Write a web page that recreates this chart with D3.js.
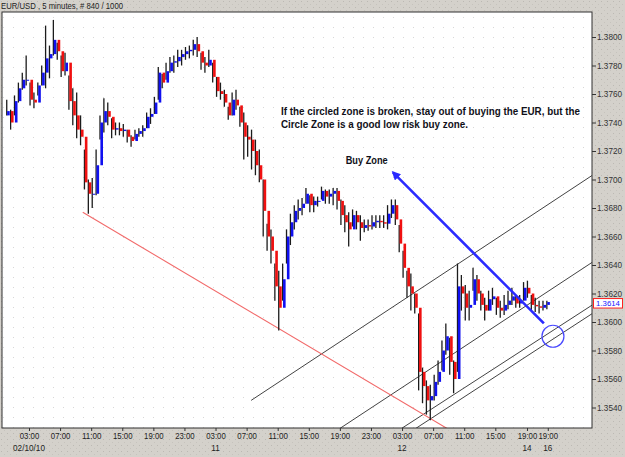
<!DOCTYPE html>
<html>
<head>
<meta charset="utf-8">
<script src="https://cdn.jsdelivr.net/npm/d3@7"></script>
<style>
  body { margin: 0; background: #d4d1cb; }
  svg { display: block; }
</style>
</head>
<body>
<div id="chart"></div>
<script>
const highs = [
  1.3756, 1.3749, 1.3759, 1.3768, 1.3775, 1.3787, 1.3768, 1.3761, 1.3768, 1.3780,
  1.3808, 1.3794, 1.3812, 1.3796, 1.3787, 1.3789, 1.3773, 1.3764, 1.3761, 1.3745,
  1.3721, 1.3700, 1.3701, 1.3721, 1.3745, 1.3757, 1.3754, 1.3743, 1.3740, 1.3740,
  1.3739, 1.3735, 1.3731, 1.3735, 1.3736, 1.3738, 1.3747, 1.3750, 1.3758, 1.3779,
  1.3774, 1.3782, 1.3786, 1.3787, 1.3791, 1.3791, 1.3793, 1.3794, 1.3798, 1.3800,
  1.3789, 1.3786, 1.3791, 1.3782, 1.3772, 1.3768, 1.3763, 1.3751, 1.3761, 1.3763,
  1.3751, 1.3747, 1.3738, 1.3735, 1.3728, 1.3721, 1.3700, 1.3669, 1.3665, 1.3641,
  1.3636, 1.3641, 1.3665, 1.3676, 1.3682, 1.3686, 1.3687, 1.3694, 1.3689, 1.3688,
  1.3688, 1.3695, 1.3693, 1.3693, 1.3694, 1.3694, 1.3686, 1.3682, 1.3677, 1.3679,
  1.3678, 1.3675, 1.3672, 1.3672, 1.3675, 1.3675, 1.3675, 1.3675, 1.3682, 1.3686,
  1.3686, 1.3668, 1.3650, 1.3636, 1.3634, 1.3620, 1.3606, 1.3568, 1.3559, 1.3556,
  1.3563, 1.3573, 1.3587, 1.3599, 1.3589, 1.3573, 1.3641, 1.3633, 1.3626, 1.3622,
  1.3638, 1.3633, 1.3622, 1.3617, 1.3622, 1.3624, 1.3617, 1.3615, 1.3619, 1.3622,
  1.3624, 1.3619, 1.3619, 1.3628, 1.3629, 1.3619, 1.3617, 1.3615, 1.3615, 1.3615
];
const lows = [
  1.3745, 1.3735, 1.3745, 1.3754, 1.3763, 1.3766, 1.3752, 1.3750, 1.3759, 1.3766,
  1.3764, 1.3771, 1.3787, 1.3784, 1.3772, 1.3773, 1.3749, 1.3738, 1.3729, 1.3724,
  1.3693, 1.3676, 1.3680, 1.3689, 1.3728, 1.3733, 1.3738, 1.3729, 1.3731, 1.3731,
  1.3730, 1.3726, 1.3723, 1.3728, 1.3730, 1.3730, 1.3736, 1.3739, 1.3746, 1.3756,
  1.3764, 1.3770, 1.3775, 1.3775, 1.3779, 1.3780, 1.3784, 1.3785, 1.3787, 1.3786,
  1.3777, 1.3775, 1.3779, 1.3768, 1.3758, 1.3756, 1.3751, 1.3742, 1.3745, 1.3749,
  1.3737, 1.3714, 1.3716, 1.3707, 1.3703, 1.3698, 1.3660, 1.3650, 1.3641, 1.3615,
  1.3594, 1.3615, 1.3641, 1.3654, 1.3665, 1.3672, 1.3675, 1.3683, 1.3677, 1.3677,
  1.3681, 1.3686, 1.3683, 1.3683, 1.3682, 1.3679, 1.3668, 1.3663, 1.3653, 1.3667,
  1.3665, 1.3657, 1.3663, 1.3664, 1.3665, 1.3666, 1.3666, 1.3666, 1.3665, 1.3673,
  1.3668, 1.3649, 1.3631, 1.3617, 1.3608, 1.3606, 1.3552, 1.3543, 1.3535, 1.3531,
  1.3545, 1.3556, 1.3566, 1.3577, 1.3563, 1.3550, 1.3565, 1.3608, 1.3601, 1.3601,
  1.3622, 1.3615, 1.3608, 1.3601, 1.3608, 1.3612, 1.3605, 1.3603, 1.3605, 1.3609,
  1.3612, 1.3610, 1.3610, 1.3615, 1.3617, 1.3608, 1.3607, 1.3606, 1.3608, 1.3609
];
const closes = [
  1.3748, 1.3740, 1.3755, 1.3764, 1.3770, 1.3770, 1.3756, 1.3754, 1.3766, 1.3775,
  1.3785, 1.3788, 1.3798, 1.3790, 1.3776, 1.3782, 1.3755, 1.3745, 1.3735, 1.3730,
  1.3698, 1.3690, 1.3690, 1.3710, 1.3740, 1.3748, 1.3744, 1.3735, 1.3736, 1.3734,
  1.3735, 1.3730, 1.3727, 1.3732, 1.3734, 1.3736, 1.3744, 1.3746, 1.3754, 1.3775,
  1.3768, 1.3776, 1.3782, 1.3783, 1.3786, 1.3788, 1.3790, 1.3791, 1.3795, 1.3790,
  1.3782, 1.3780, 1.3784, 1.3772, 1.3762, 1.3760, 1.3754, 1.3745, 1.3756, 1.3752,
  1.3740, 1.3730, 1.3728, 1.3720, 1.3710, 1.3700, 1.3678, 1.3660, 1.3650, 1.3625,
  1.3610, 1.3630, 1.3660, 1.3670, 1.3678, 1.3680, 1.3683, 1.3690, 1.3682, 1.3685,
  1.3685, 1.3692, 1.3688, 1.3690, 1.3692, 1.3685, 1.3675, 1.3670, 1.3665, 1.3675,
  1.3670, 1.3666, 1.3668, 1.3667, 1.3670, 1.3671, 1.3670, 1.3669, 1.3676, 1.3682,
  1.3672, 1.3655, 1.3638, 1.3625, 1.3620, 1.3610, 1.3565, 1.3555, 1.3545, 1.3548,
  1.3558, 1.3565, 1.3580, 1.3590, 1.3572, 1.3560, 1.3625, 1.3620, 1.3610, 1.3612,
  1.3630, 1.3620, 1.3612, 1.3608, 1.3616, 1.3618, 1.3610, 1.3608, 1.3612, 1.3615,
  1.3618, 1.3613, 1.3615, 1.3624, 1.3620, 1.3612, 1.3611, 1.3610, 1.3612, 1.3614
];

// x axis works in 5-minute slots; each bar above covers 6 of them
const SLOTS_PER_BAR = 6;
const tickSlots = [36, 84, 132, 180, 228, 276, 324, 372, 420, 468, 516, 564, 612, 660, 708, 756, 805, 837];
const tickTimes = ["03:00", "07:00", "11:00", "15:00", "19:00", "23:00", "03:00", "07:00", "11:00",
                   "15:00", "19:00", "23:00", "03:00", "07:00", "11:00", "15:00", "19:00", "19:00"];
const daySlots = [36, 324, 612, 805, 837];
const dayLabels = ["02/10/10", "11", "12", "14", "16"];
const priceTicks = [1.3540, 1.3560, 1.3580, 1.3600, 1.3620, 1.3640, 1.3660, 1.3680,
                    1.3700, 1.3720, 1.3740, 1.3760, 1.3780, 1.3800];
const lastPrice = 1.3614;

// drawn studies: [slot, price] end points
const supportLine = [[119, 1.3677], [690, 1.3523]];
const channelLines = [
  [[379, 1.3545], [906, 1.3703]],
  [[505, 1.3522], [906, 1.3642]],
  [[600, 1.3522], [906, 1.3612]],
  [[622, 1.3522], [906, 1.3606]]
];
const arrowLine = [[831, 1.3599], [598, 1.3705]];
const zoneCircle = [845, 1.3590];
const notes = [
  { at: [425, 1.37453], text: "If the circled zone is broken, stay out of buying the EUR, but the", width: 299 },
  { at: [425, 1.37361], text: "Circle Zone is a good low risk buy zone.", width: 187 },
  { at: [525, 1.37109], text: "Buy Zone", width: 42 }
];

const W = 625, H = 457;
const plot = { left: 2, top: 12, right: 592, bottom: 428 };

const svg = d3.select("#chart").append("svg")
  .attr("width", W).attr("height", H)
  .style("font-family", "'Liberation Sans', Arial, sans-serif");

const defs = svg.append("defs");
const grayDots = defs.append("pattern").attr("id", "grayDots")
  .attr("width", 6).attr("height", 6).attr("patternUnits", "userSpaceOnUse");
grayDots.append("rect").attr("width", 6).attr("height", 6).attr("fill", "#d4d1cb");
grayDots.append("rect").attr("x", 1).attr("y", 1).attr("width", 1).attr("height", 1).attr("fill", "#bcb9b3");
grayDots.append("rect").attr("x", 4).attr("y", 4).attr("width", 1).attr("height", 1).attr("fill", "#c6c3bd");
const whiteDots = defs.append("pattern").attr("id", "whiteDots")
  .attr("width", 10).attr("height", 10).attr("patternUnits", "userSpaceOnUse");
whiteDots.append("rect").attr("width", 10).attr("height", 10).attr("fill", "#fff");
whiteDots.append("rect").attr("x", 3).attr("y", 7).attr("width", 1).attr("height", 1).attr("fill", "#d6d6d6");
defs.append("clipPath").attr("id", "plotClip").append("rect")
  .attr("x", plot.left).attr("y", plot.top)
  .attr("width", plot.right - plot.left).attr("height", plot.bottom - plot.top);
defs.append("marker").attr("id", "head")
  .attr("viewBox", "0 0 10 10").attr("refX", 8).attr("refY", 5)
  .attr("markerWidth", 3.4).attr("markerHeight", 3.4).attr("orient", "auto")
  .append("path").attr("d", "M0,0L10,5L0,10Z").attr("fill", "#2a2aff");

svg.append("rect").attr("width", W).attr("height", H).attr("fill", "url(#grayDots)");
svg.append("rect")
  .attr("x", plot.left).attr("y", plot.top)
  .attr("width", plot.right - plot.left).attr("height", plot.bottom - plot.top)
  .attr("fill", "url(#whiteDots)");

const x = d3.scaleLinear().domain([-5.7, 905.3]).range([plot.left, plot.right]);
const y = d3.scaleLinear().domain([1.3540, 1.3800]).range([407.5, 37]);

const bars = highs.map((h, i) => ({
  slot: i * SLOTS_PER_BAR + SLOTS_PER_BAR / 2,
  high: h,
  low: lows[i],
  open: i === 0 ? lows[0] : closes[i - 1],
  close: closes[i]
}));

const g = svg.append("g").attr("clip-path", "url(#plotClip)");

// trend lines under the bars
const line = d3.line().x(d => x(d[0])).y(d => y(d[1]));
g.selectAll(".channel").data(channelLines).enter().append("path")
  .attr("d", line).attr("fill", "none").attr("stroke", "#2e2e2e").attr("stroke-width", 0.9);
g.append("path").datum(supportLine).attr("d", line)
  .attr("fill", "none").attr("stroke", "#f26a6a").attr("stroke-width", 1.1);

// price bars: dark high-low stroke plus a coloured open-close body
const bar = g.selectAll(".bar").data(bars).enter().append("g");
bar.append("line")
  .attr("x1", d => x(d.slot) - 0.9).attr("x2", d => x(d.slot) - 0.9)
  .attr("y1", d => y(d.high)).attr("y2", d => y(d.low))
  .attr("stroke", "#1c1c1c").attr("stroke-width", 1.3);
bar.append("rect")
  .attr("x", d => x(d.slot) - 0.5)
  .attr("width", 2.6)
  .attr("y", d => y(Math.max(d.open, d.close)))
  .attr("height", d => Math.max(1, Math.abs(y(d.open) - y(d.close))))
  .attr("fill", d => d.close >= d.open ? "#1010f0" : "#f01010");

// buy-zone arrow and circle
g.append("path").datum(arrowLine).attr("d", line)
  .attr("fill", "none").attr("stroke", "#2a2aff").attr("stroke-width", 2.6)
  .attr("marker-end", "url(#head)");
g.append("circle")
  .attr("cx", x(zoneCircle[0])).attr("cy", y(zoneCircle[1])).attr("r", 11)
  .attr("fill", "none").attr("stroke", "#4848ff").attr("stroke-width", 1.2);

svg.selectAll(".note").data(notes).enter().append("text")
  .attr("x", d => x(d.at[0])).attr("y", d => y(d.at[1]))
  .attr("textLength", d => d.width).attr("lengthAdjust", "spacingAndGlyphs")
  .attr("font-size", 10).attr("font-weight", "bold").attr("fill", "#101018")
  .text(d => d.text);

// frame
svg.append("rect")
  .attr("x", plot.left).attr("y", plot.top)
  .attr("width", plot.right - plot.left).attr("height", plot.bottom - plot.top)
  .attr("fill", "none").attr("stroke", "#303030").attr("stroke-width", 1);

// price axis
const yAxis = svg.append("g").attr("transform", `translate(${plot.right},0)`)
  .call(d3.axisRight(y).tickValues(priceTicks).tickFormat(d3.format(".4f")).tickSize(4).tickPadding(1));
yAxis.select(".domain").remove();
yAxis.selectAll("line").attr("stroke", "#333");
yAxis.selectAll("text").attr("font-size", 8.2).attr("fill", "#333").attr("font-family", null);

// time axis
const xAxis = svg.append("g").attr("transform", `translate(0,${plot.bottom})`)
  .call(d3.axisBottom(x).tickValues(tickSlots).tickFormat((d, i) => tickTimes[i]).tickSize(3).tickPadding(2));
xAxis.select(".domain").remove();
xAxis.selectAll("line").attr("stroke", "#333");
xAxis.selectAll("text").attr("font-size", 8.2).attr("fill", "#222").attr("font-family", null)
  .attr("textLength", 19.5).attr("lengthAdjust", "spacingAndGlyphs");

svg.selectAll(".day").data(daySlots).enter().append("text")
  .attr("x", d => x(d)).attr("y", 451)
  .attr("text-anchor", "middle").attr("font-size", 8.2).attr("fill", "#222")
  .text((d, i) => dayLabels[i]);

// last price tag
const tagY = y(lastPrice);
svg.append("rect").attr("x", 593.5).attr("y", tagY - 3.5).attr("width", 29).attr("height", 9.5)
  .attr("fill", "#fff").attr("stroke", "#ff2020").attr("stroke-width", 1);
svg.append("text").attr("x", 608).attr("y", tagY + 4.3)
  .attr("text-anchor", "middle").attr("font-size", 7.8).attr("fill", "#1818ff")
  .text(d3.format(".4f")(lastPrice));

svg.append("text").attr("x", 1).attr("y", 9)
  .attr("font-size", 8.2).attr("fill", "#222")
  .attr("textLength", 122).attr("lengthAdjust", "spacingAndGlyphs")
  .text("EUR/USD , 5 minutes, # 840 / 1000");
</script>
</body>
</html>
